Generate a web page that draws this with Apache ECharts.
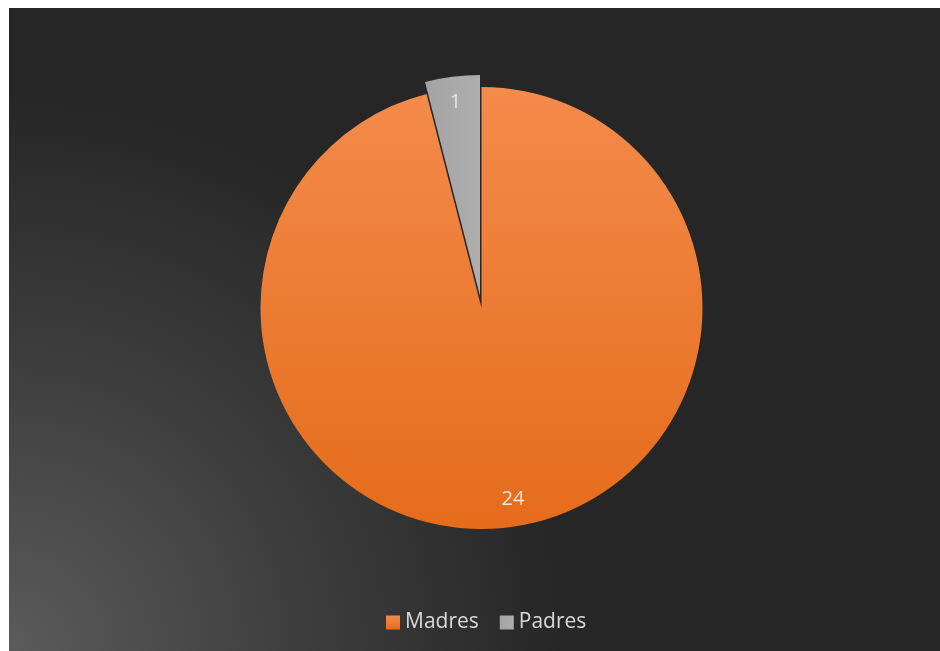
<!DOCTYPE html>
<html>
<head>
<meta charset="utf-8">
<script src="https://cdn.jsdelivr.net/npm/echarts@6/dist/echarts.min.js"></script>
<style>
  html, body { margin: 0; padding: 0; background: #ffffff; }
  #chart { position: absolute; left: 9px; top: 8px; width: 931px; height: 643px; }
</style>
</head>
<body>
<div id="chart"></div>
<script>
// data
const categories = ['Madres', 'Padres'];
const values = [24, 1];
const explodedSlice = 'Padres';

const sliceColors = [
  new echarts.graphic.LinearGradient(0, 0, 0, 1, [
    { offset: 0, color: '#f38b4b' },
    { offset: 1, color: '#e56c1b' }
  ]),
  new echarts.graphic.LinearGradient(0, 0, 1, 0, [
    { offset: 0, color: '#a3a3a3' },
    { offset: 1, color: '#aeaeae' }
  ])
];
// small nudges so the value labels sit where the original puts them
const labelNudges = [[7, -2], [2, 4]];

const labelFont = '"Open Sans", "Liberation Sans", sans-serif';
const center = [472.5, 300];
const radius = 221;

function buildData(withColor) {
  return categories.map((name, i) => ({
    name,
    value: values[i],
    selected: name === explodedSlice,
    itemStyle: withColor ? { color: sliceColors[i] } : { color: 'transparent' },
    label: withColor ? undefined : { offset: labelNudges[i] }
  }));
}

const chart = echarts.init(document.getElementById('chart'), null, { renderer: 'canvas' });

chart.setOption({
  animation: false,
  backgroundColor: {
    type: 'radial',
    x: 0,
    y: 643,
    r: 560,
    global: true,
    colorStops: [
      { offset: 0, color: '#5b5b5b' },
      { offset: 0.55, color: '#3c3c3c' },
      { offset: 1, color: '#262626' }
    ]
  },
  legend: {
    data: categories,
    top: 599,
    left: 372,
    icon: 'rect',
    itemWidth: 14,
    itemHeight: 14,
    itemGap: 21,
    selectedMode: false,
    textStyle: { color: '#d9d9d9', fontSize: 21, fontFamily: labelFont, padding: [0, 0, 0, 0] }
  },
  series: [
    {
      type: 'pie',
      center,
      radius: [0, radius],
      startAngle: 90,
      clockwise: true,
      selectedMode: 'multiple',
      selectedOffset: 12,
      silent: true,
      label: { show: false },
      labelLine: { show: false },
      data: buildData(true)
    },
    {
      // transparent ring only used to place the value labels near the rim
      type: 'pie',
      center,
      radius: [radius * 0.74, radius],
      startAngle: 90,
      clockwise: true,
      selectedMode: 'multiple',
      selectedOffset: 12,
      silent: true,
      label: {
        show: true,
        position: 'inside',
        formatter: '{c}',
        color: '#e6e6e6',
        fontSize: 20,
        fontFamily: labelFont
      },
      labelLine: { show: false },
      data: buildData(false)
    }
  ]
});
</script>
</body>
</html>
